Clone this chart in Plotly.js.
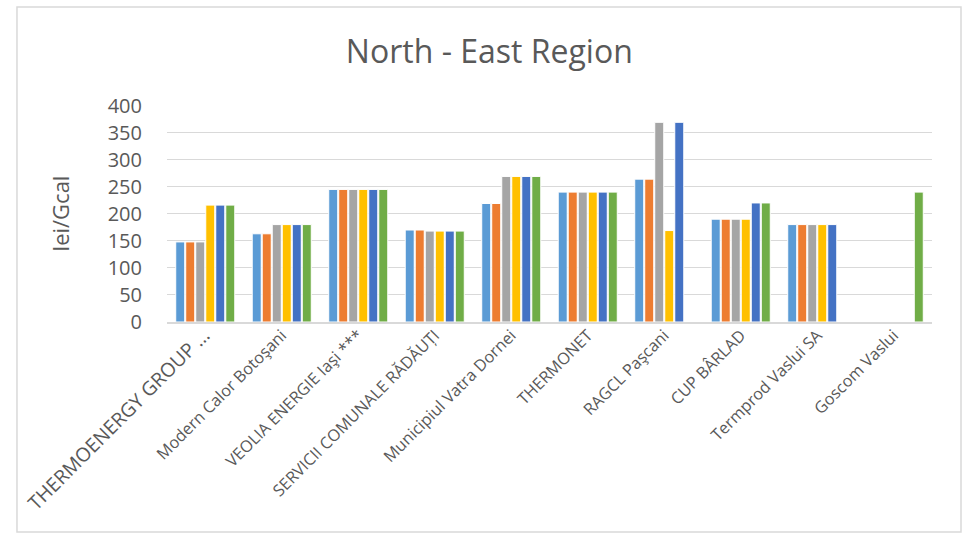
<!DOCTYPE html>
<html>
<head>
<meta charset="utf-8">
<script src="https://cdn.plot.ly/plotly-3.0.1.min.js"></script>
<style>html,body{margin:0;padding:0;background:#fff;}#chart{width:969px;height:533px;}</style>
</head>
<body>
<div id="chart"></div>
<script>
const categories = ["THERMOENERGY GROUP …", "Modern Calor Botoşani", "VEOLIA ENERGIE Iaşi ***", "SERVICII COMUNALE RĂDĂUȚI", "Municipiul Vatra Dornei", "THERMONET", "RAGCL Paşcani", "CUP BÂRLAD", "Termprod Vaslui SA", "Goscom Vaslui"];
const seriesNames = ["Series 1", "Series 2", "Series 3", "Series 4", "Series 5", "Series 6"];
const s1 = [148, 163, 245, 170, 219, 240, 264, 190, 180, null];
const s2 = [148, 163, 245, 170, 219, 240, 264, 190, 180, null];
const s3 = [148, 180, 245, 168, 269, 240, 369, 190, 180, null];
const s4 = [216, 180, 245, 168, 269, 240, 169, 190, 180, null];
const s5 = [216, 180, 245, 168, 269, 240, 369, 220, 180, null];
const s6 = [216, 180, 245, 168, 269, 240, null, 220, null, 240];
const yTicks = [0, 50, 100, 150, 200, 250, 300, 350, 400];

const colors = ["#5B9BD5", "#ED7D31", "#A5A5A5", "#FFC000", "#4472C4", "#70AD47"];
const allSeries = [s1, s2, s3, s4, s5, s6];

const traces = allSeries.map((vals, i) => ({
  type: "bar",
  name: seriesNames[i],
  x: categories,
  y: vals,
  marker: {color: colors[i], line: {color: "#ffffff", width: 1}},
  hoverinfo: "x+y"
}));

const tickText = categories.map((c, i) => i === 0 ? '<span style="font-size:19.5px">' + c + '</span>' : c);

const layout = {
  width: 969, height: 533,
  margin: {l: 167, r: 37, t: 105, b: 211},
  paper_bgcolor: "#ffffff",
  plot_bgcolor: "#ffffff",
  font: {family: "Open Sans, sans-serif", color: "#595959"},
  showlegend: false,
  barmode: "group",
  bargap: 0.215,
  bargroupgap: 0.1,
  title: {
    text: "North - East Region",
    font: {size: 32, color: "#595959", family: "Open Sans, sans-serif"},
    x: 0.505, xref: "container", xanchor: "center",
    y: 0.902, yref: "container", yanchor: "middle"
  },
  xaxis: {
    type: "category",
    tickmode: "array",
    tickvals: categories,
    ticktext: tickText,
    tickangle: -45,
    tickfont: {size: 16.3, color: "#595959"},
    showgrid: false,
    showline: true,
    linecolor: "#D9D9D9",
    linewidth: 1.5,
    ticks: "",
    ticklabelstandoff: -4,
    automargin: false
  },
  yaxis: {
    range: [0, 401],
    tickmode: "array",
    tickvals: yTicks,
    tickfont: {size: 20, color: "#595959"},
    showgrid: true,
    gridcolor: "#D9D9D9",
    gridwidth: 1,
    zeroline: false,
    showline: false,
    ticks: "",
    ticklabelstandoff: 24,
    automargin: false,
    title: {text: "lei/Gcal", font: {size: 22, color: "#595959"}, standoff: 31}
  },
  shapes: [{
    type: "rect", xref: "paper", yref: "paper",
    x0: -0.1961, x1: 1.0379, y0: -0.9677, y1: 1.4516,
    line: {color: "#D9D9D9", width: 1.5},
    fillcolor: "rgba(0,0,0,0)",
    layer: "below"
  }]
};

Plotly.newPlot("chart", traces, layout, {displayModeBar: false, staticPlot: true});
</script>
</body>
</html>
